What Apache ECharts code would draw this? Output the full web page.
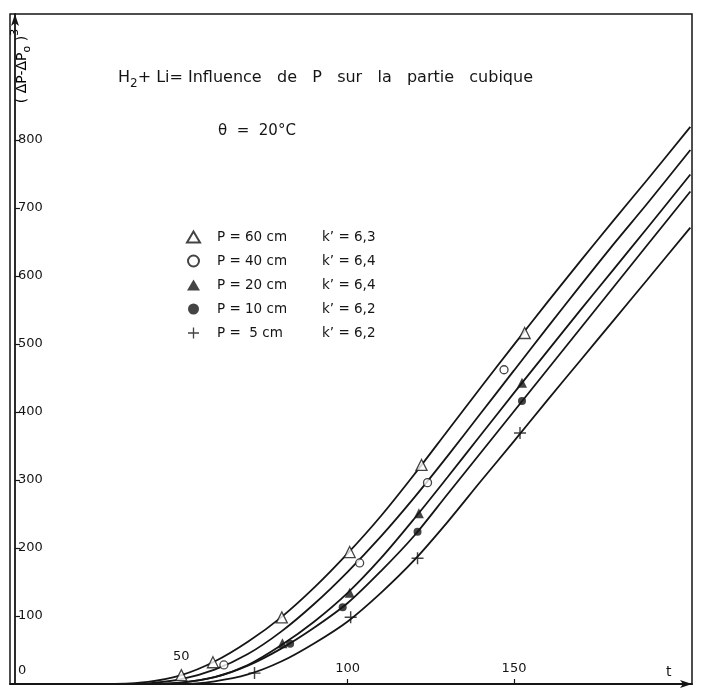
<!DOCTYPE html>
<html>
<head>
<meta charset="utf-8">
<script src="https://cdn.jsdelivr.net/npm/echarts@6/dist/echarts.min.js"></script>
<style>
html,body{margin:0;padding:0;background:#fff}
#chart{width:703px;height:693px}
</style>
</head>
<body>
<div id="chart"></div>
<script>
// fitted curves (t in min, y = (dP-dP0)^3)
var tGrid   = [30, 40, 50, 60, 70, 80, 90, 100, 110, 120, 130, 140, 150, 160, 170, 180, 190, 203];
var curve60 = [0, 3, 13, 33, 62, 98, 142, 192, 247, 308, 372, 436, 499, 561, 622, 682, 741, 819];
var curve40 = [0, 1, 7, 21, 44, 77, 118, 165, 217, 274, 335, 398, 461, 524, 586, 647, 706, 785];
var curve20 = [0, 0, 2, 10, 28, 57, 92, 134, 185, 243, 304, 366, 428, 489, 550, 610, 670, 749];
var curve10 = [0, 0, 2, 10, 27, 52, 83, 119, 166, 218, 279, 340, 401, 462, 523, 584, 645, 724];
var curve5  = [0, 0, 0, 4, 14, 33, 60, 92, 134, 182, 238, 298, 357, 417, 476, 535, 594, 671];

// measured points
var pts60 = [[50, 13], [59.5, 32], [80.2, 98], [100.6, 194], [122.2, 322], [153.2, 516]];
var pts40 = [[62.8, 28], [103.6, 178], [124, 296], [147, 462]];
var pts20 = [[80.4, 60], [100.6, 134], [121.4, 251], [152.4, 443]];
var pts10 = [[82.7, 59], [98.5, 113], [121, 224], [152.4, 416]];
var pts5  = [[72, 16], [100.9, 98], [121, 185], [151.8, 369]];

var seriesNames = ['P = 60 cm', 'P = 40 cm', 'P = 20 cm', 'P = 10 cm', 'P =  5 cm'];
var kValues = ['6,3', '6,4', '6,4', '6,2', '6,2'];

var xLabels = [50, 100, 150];
var xTicks = [100, 150];
var yLabels = [0, 100, 200, 300, 400, 500, 600, 700, 800];
var yTicks = [100, 200, 300, 400, 500, 600, 700, 800];

var font = 'DejaVu Sans';
var ink = '#151515';

function zip(ys) {
    var out = [];
    for (var i = 0; i < tGrid.length; i++) out.push([tGrid[i], ys[i]]);
    return out;
}

function curve(name, ys) {
    return {
        name: name,
        type: 'line',
        data: zip(ys),
        smooth: 0.3,
        showSymbol: false,
        silent: true,
        z: 2,
        lineStyle: { color: ink, width: 1.8 }
    };
}

var plusPath = 'path://M4.4,0h1.2v4.4h4.4v1.2h-4.4v4.4h-1.2v-4.4h-4.4v-1.2h4.4z';

function points(i, data, symbol, size, filled) {
    return {
        name: seriesNames[i],
        type: 'scatter',
        data: data,
        symbol: symbol,
        symbolSize: size,
        z: 5,
        itemStyle: {
            color: filled ? ink : '#fff',
            borderColor: ink,
            borderWidth: filled ? 0 : 1.3
        }
    };
}

var myChart = echarts.init(document.getElementById('chart'));
var option = {
    animation: false,
    backgroundColor: '#fff',
    textStyle: { fontFamily: font, color: ink },
    title: [
        {
            text: '{a|H}{s|2}{a|+ Li= Influence   de   P   sur   la   partie   cubique}',
            left: 118,
            top: 66,
            padding: 0,
            textStyle: {
                rich: {
                    a: { fontFamily: font, fontSize: 16, fontWeight: 'normal', color: ink },
                    s: { fontFamily: font, fontSize: 12, fontWeight: 'normal', color: ink, padding: [12, 0, 0, 0] }
                }
            }
        },
        {
            text: '\u03b8  =  20\u00b0C',
            left: 218,
            top: 124,
            padding: 0,
            textStyle: { fontFamily: font, fontSize: 15, fontWeight: 'normal', color: ink }
        }
    ],
    graphic: [
        {
            type: 'text',
            x: 22,
            y: 66,
            rotation: Math.PI / 2,
            style: {
                text: '{a|( \u0394P-\u0394P}{b|o}{a| )}{c|3}',
                align: 'center',
                verticalAlign: 'middle',
                rich: {
                    a: { fontFamily: font, fontSize: 14, color: ink },
                    b: { fontFamily: font, fontSize: 11, color: ink, padding: [11, 0, 0, 0] },
                    c: { fontFamily: font, fontSize: 11, color: ink, padding: [0, 0, 13, 0] }
                }
            }
        }
    ],
    legend: {
        orient: 'vertical',
        left: 181,
        top: 225,
        itemWidth: 13,
        itemHeight: 11,
        itemGap: 10,
        selectedMode: false,
        data: seriesNames,
        formatter: function (name) {
            var k = kValues[seriesNames.indexOf(name)];
            return '{p|' + name + '}{k|k\u2019 = ' + k + '}';
        },
        textStyle: {
            rich: {
                p: { fontFamily: font, fontSize: 13.5, color: ink, width: 105, padding: [0, 0, 0, 12], lineHeight: 14 },
                k: { fontFamily: font, fontSize: 13.5, color: ink, lineHeight: 14 }
            }
        }
    },
    grid: {
        left: 10,
        right: 11,
        top: 14,
        bottom: 9,
        show: true,
        borderColor: ink,
        borderWidth: 1.5
    },
    xAxis: {
        type: 'value',
        min: -1.5,
        max: 203.5,
        splitLine: { show: false },
        axisLine: {
            onZero: false,
            lineStyle: { color: ink, width: 1.8 },
            symbol: ['none', 'arrow'],
            symbolSize: [6, 12]
        },
        axisTick: {
            show: true,
            inside: true,
            length: 5,
            customValues: xTicks,
            lineStyle: { color: ink, width: 1.2 }
        },
        axisLabel: {
            inside: true,
            margin: 9,
            customValues: xLabels,
            formatter: function (v) {
                return v === 50 ? '{h|50}' : '{n|' + v + '}';
            },
            rich: {
                h: { fontFamily: font, fontSize: 13, color: ink, padding: [0, 0, 12, 0] },
                n: { fontFamily: font, fontSize: 13, color: ink }
            }
        },
        name: 't',
        nameLocation: 'end',
        nameGap: -26,
        nameTextStyle: { fontFamily: font, fontSize: 14, color: ink, align: 'left', verticalAlign: 'bottom', padding: [0, 0, 5, 0] }
    },
    yAxis: {
        type: 'value',
        min: 0,
        max: 985,
        splitLine: { show: false },
        axisLine: {
            lineStyle: { color: ink, width: 1.8 },
            symbol: ['none', 'arrow'],
            symbolSize: [6, 12]
        },
        axisTick: {
            show: true,
            inside: true,
            length: 5,
            customValues: yTicks,
            lineStyle: { color: ink, width: 1.2 }
        },
        axisLabel: {
            inside: true,
            margin: 8,
            customValues: yLabels,
            formatter: function (v) {
                return v === 0 ? '{z|0}' : '{n|' + v + '}';
            },
            rich: {
                z: { fontFamily: font, fontSize: 13, color: ink, padding: [0, 0, 26, 0] },
                n: { fontFamily: font, fontSize: 13, color: ink }
            }
        }
    },
    series: [
        curve('c60', curve60),
        curve('c40', curve40),
        curve('c20', curve20),
        curve('c10', curve10),
        curve('c5', curve5),
        points(0, pts60, 'triangle', 11, false),
        points(1, pts40, 'circle', 8, false),
        points(2, pts20, 'triangle', 10, true),
        points(3, pts10, 'circle', 8, true),
        points(4, pts5, plusPath, 12, true)
    ]
};
myChart.setOption(option, true);
</script>
</body>
</html>
